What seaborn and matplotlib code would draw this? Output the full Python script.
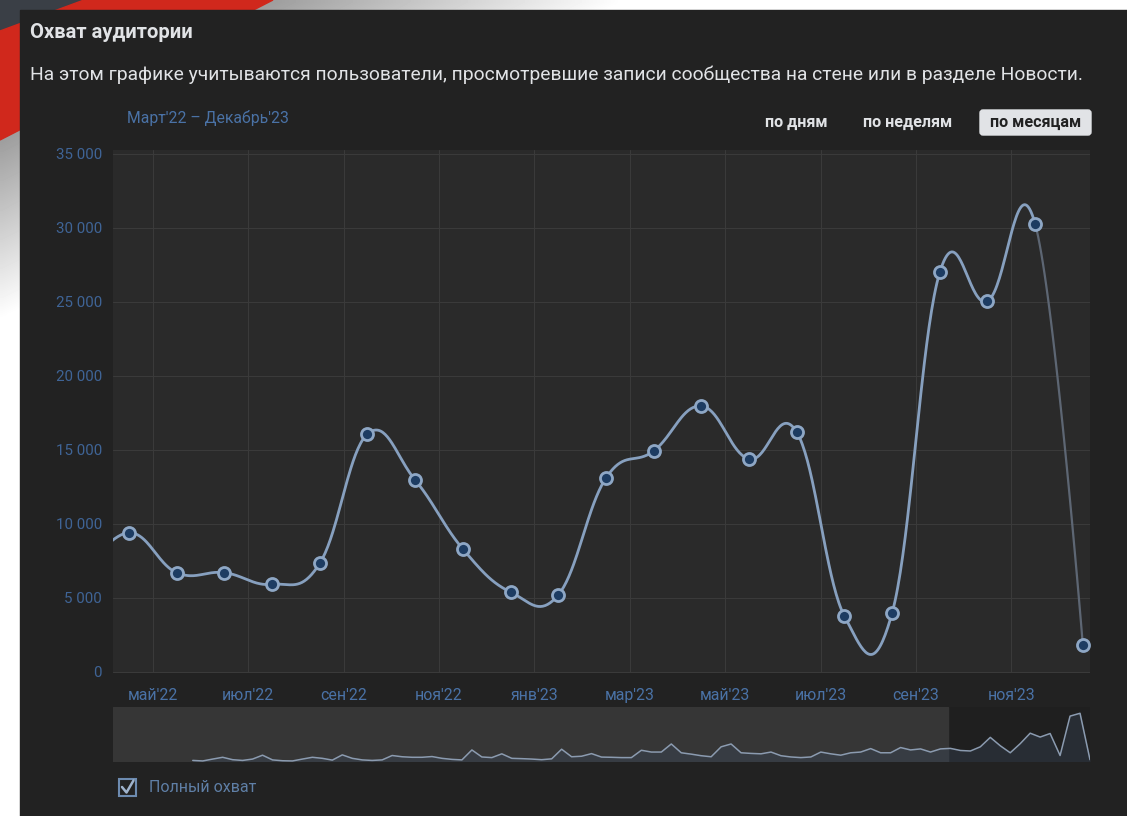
import numpy as np
import pandas as pd
import matplotlib
matplotlib.use("Agg")
import matplotlib.pyplot as plt
import seaborn as sns
from matplotlib.patches import Rectangle, Polygon, FancyBboxPatch

# ---- data ----
month_names = ["мар'22", "апр'22", "май'22", "июн'22", "июл'22", "авг'22", "сен'22", "окт'22",
               "ноя'22", "дек'22", "янв'23", "фев'23", "мар'23", "апр'23", "май'23", "июн'23",
               "июл'23", "авг'23", "сен'23", "окт'23", "ноя'23", "дек'23"]
reach = [6500, 9380, 6680, 6680, 5890, 7310, 16050, 12940, 8280, 5370, 5170,
         13070, 14900, 17940, 14360, 16180, 3750, 3950, 26970, 25030, 30240, 1790]
tick_labels = ["май'22", "июл'22", "сен'22", "ноя'22", "янв'23", "мар'23",
               "май'23", "июл'23", "сен'23", "ноя'23"]
y_ticks = [0, 5000, 10000, 15000, 20000, 25000, 30000, 35000]

# navigator (weekly), empty at the start
nav_values = [np.nan] * 8 + [
    1, 0.5, 2.3, 4, 1.7, 1, 2.3, 6, 1.5, 0.7, 0.5, 2.3, 4, 3, 1.3, 6.3, 3, 1.5, 1, 1.5,
    5.7, 4.5, 4, 4, 4.7, 3, 2, 1.5, 11, 4.3, 3.7, 7.3, 3, 2.7, 2.3, 1.7, 2.5, 11.7,
    4.5, 5, 7.5, 4.2, 4, 3.7, 3.7, 10.7, 9, 9, 16.7, 8.3, 7, 5.5, 4.5, 14, 16.7, 8.3,
    7.7, 7.3, 9, 5.5, 4.3, 3.7, 4.3, 9, 7.3, 6, 8.3, 9, 12.3, 8.3, 8.3, 13.3, 11, 12,
    9, 12, 12.5, 10.5, 10, 14, 23, 15, 8.3, 17, 27, 23.3, 26.7, 5.7, 43.3, 46, 1.7]

W, H = 1127, 816
PAGE = "#222222"
LINE = "#87a0bf"
BLUE_TXT = "#4a72a6"


def spline(xs, ys, smooth=1.5):
    # bezier spline with control points like the web chart
    n = len(xs)
    lc = [(xs[i], ys[i]) for i in range(n)]
    rc = [(xs[i], ys[i]) for i in range(n)]
    d = smooth + 1
    for i in range(1, n - 1):
        lx = (smooth * xs[i] + xs[i - 1]) / d
        ly = (smooth * ys[i] + ys[i - 1]) / d
        rx = (smooth * xs[i] + xs[i + 1]) / d
        ry = (smooth * ys[i] + ys[i + 1]) / d
        corr = (ry - ly) * (rx - xs[i]) / (rx - lx) + ys[i] - ry
        lc[i] = (lx, ly + corr)
        rc[i] = (rx, ry + corr)
    t = np.linspace(0, 1, 40)[:, None]
    segs = []
    for i in range(1, n):
        p0 = np.array([xs[i - 1], ys[i - 1]])
        p1 = np.array(rc[i - 1])
        p2 = np.array(lc[i])
        p3 = np.array([xs[i], ys[i]])
        b = (1 - t) ** 3 * p0 + 3 * (1 - t) ** 2 * t * p1 + 3 * (1 - t) * t ** 2 * p2 + t ** 3 * p3
        segs.append(b)
    return segs


sns.set_theme(style="dark")
plt.rcParams["font.family"] = ["Roboto", "DejaVu Sans"]

fig = plt.figure(figsize=(W / 100, H / 100), dpi=100)
fig.patch.set_facecolor("white")

# ---- background (pixel coordinates) ----
bg = fig.add_axes([0, 0, 1, 1])
bg.set_xlim(0, W)
bg.set_ylim(H, 0)
bg.axis("off")
gx, gy = np.meshgrid(np.linspace(0, 700, 141), np.linspace(0, 400, 81))
dist = ((gx - 273) * 140 + gy * 273) / 306.8
grad = np.clip(dist / 160, 0, 1)
bg.imshow(0.62 + 0.38 * grad, cmap="gray", vmin=0, vmax=1, extent=(0, 700, 400, 0),
          interpolation="bilinear", zorder=0)
bg.add_patch(Polygon([(0, 0), (84, 0), (0, 31)], closed=True, color="#3a3f46", zorder=1))
bg.add_patch(Polygon([(84, 0), (273, 0), (0, 140), (0, 31)], closed=True, color="#d0281c", zorder=1))
bg.add_patch(Rectangle((20, 10), W - 20, H - 10, color=PAGE, zorder=2))

bg.text(30, 33, "Охват аудитории", color="#e1e3e6", fontsize=14.5, fontweight="bold",
        va="center", ha="left", zorder=3)
bg.text(30, 75, "На этом графике учитываются пользователи, просмотревшие записи сообщества "
        "на стене или в разделе Новости.", color="#e1e3e6", fontsize=13.9,
        va="center", ha="left", zorder=3)
bg.text(127, 118, "Март'22 – Декабрь'23", color=BLUE_TXT, fontsize=11.3,
        va="center", ha="left", zorder=3)
bg.text(796, 122, "по дням", color="#e1e3e6", fontsize=11.6, fontweight="bold",
        va="center", ha="center", zorder=3)
bg.text(908, 122, "по неделям", color="#e1e3e6", fontsize=11.6, fontweight="bold",
        va="center", ha="center", zorder=3)
bg.add_patch(FancyBboxPatch((980, 110), 111, 25, boxstyle="round,pad=0,rounding_size=3",
                            color="#e1e3e6", zorder=3))
bg.text(1036, 122, "по месяцам", color="#222222", fontsize=11.6, fontweight="bold",
        va="center", ha="center", zorder=4)

# checkbox
bg.add_patch(Rectangle((119, 779), 17, 17, fill=False, edgecolor="#6d8bb0", lw=1.5, zorder=3))
bg.plot([122, 126.5, 133.5], [787, 792.5, 780.5], color="#9fb3cc", lw=1.8, zorder=4)
bg.text(149, 787, "Полный охват", color="#5f7fa6", fontsize=11.5, va="center", ha="left", zorder=3)

# ---- main chart ----
ax = fig.add_axes([113 / W, 1 - 673 / H, 977 / W, 523 / H])
ax.set_facecolor("#2a2a2a")
x_pts = np.arange(len(reach)) + 0.5
segs = spline(list(x_pts), list(map(float, reach)))
main = np.vstack(segs[:-1])
last = segs[-1]
curve = pd.DataFrame({"x": main[:, 0], "y": main[:, 1]})
sns.lineplot(data=curve, x="x", y="y", sort=False, estimator=None, ax=ax,
             color=LINE, lw=2.0, zorder=3)
tail = pd.DataFrame({"x": last[:, 0], "y": last[:, 1]})
sns.lineplot(data=tail, x="x", y="y", sort=False, estimator=None, ax=ax,
             color="#5d6673", lw=1.6, zorder=3)
pts = pd.DataFrame({"month": month_names, "x": x_pts, "reach": reach})
sns.scatterplot(data=pts, x="x", y="reach", ax=ax, s=75, color="#1d3c62",
                edgecolor="#8ea7c5", linewidth=2.0, zorder=5)

major = [month_names.index(l) for l in tick_labels]
minor = [i for i in range(1, 22) if i not in major]
ax.set_xticks(major)
ax.set_xticklabels(tick_labels)
ax.set_xticks(minor, minor=True)
ax.set_yticks(y_ticks)
ax.set_yticklabels([f"{v:,}".replace(",", " ") for v in y_ticks])
# limits after the ticks, so the ticks do not widen them
ax.set_xlim(1.165, 21.65)
ax.set_ylim(-100, 35240)
ax.grid(True, which="major", color="#3a3a3a", lw=0.8)
ax.tick_params(axis="x", which="both", length=3, color="#3a3a3a", direction="out",
               pad=8, labelsize=11.4, labelcolor=BLUE_TXT)
ax.tick_params(axis="y", length=0, pad=8, labelsize=10.9, labelcolor="#3f6496")
ax.set_xlabel("")
ax.set_ylabel("")
for s in ax.spines.values():
    s.set_visible(False)

# ---- navigator ----
nav = fig.add_axes([113 / W, 1 - 762 / H, 977 / W, 55 / H])
nav.set_facecolor("#1f1f1f")
nav.add_patch(Rectangle((0, 0), 0.855, 1, transform=nav.transAxes, color="#363636", zorder=0))
nav_df = pd.DataFrame({"week": np.arange(len(nav_values)), "v": nav_values})
nav.fill_between(nav_df["week"], 0, nav_df["v"], color="#3b4a5e", alpha=0.35, lw=0, zorder=1)
sns.lineplot(data=nav_df, x="week", y="v", ax=nav, color="#8b9bb0", lw=1.1, zorder=2)
nav.set_xlim(0, len(nav_values) - 1)
nav.set_ylim(-0.5, 52)
nav.set_xticks([])
nav.set_yticks([])
nav.set_xlabel("")
nav.set_ylabel("")
for s in nav.spines.values():
    s.set_visible(False)

fig.savefig("out.png", dpi=100, facecolor=fig.get_facecolor())
